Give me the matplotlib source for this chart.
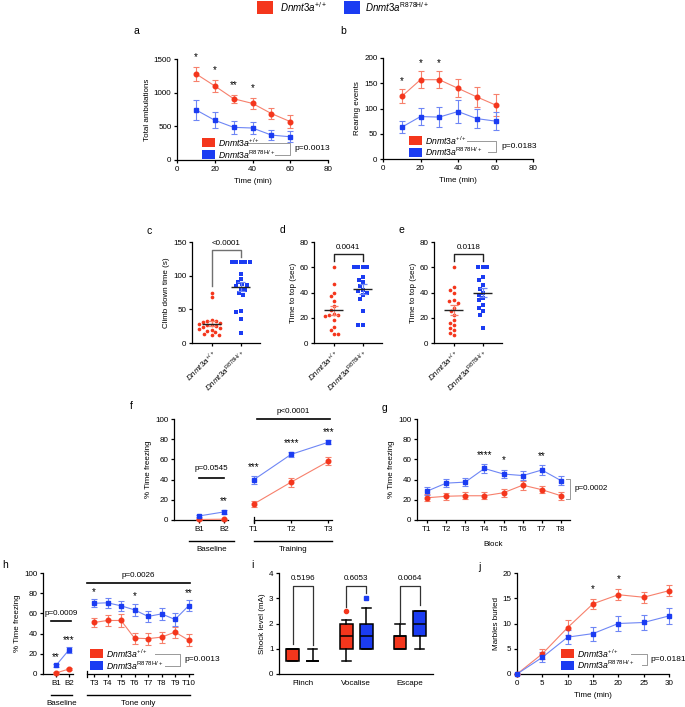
import numpy as np
import matplotlib
matplotlib.use('Agg')
import matplotlib.pyplot as plt
from matplotlib.patches import Rectangle
from matplotlib.lines import Line2D

plt.rcParams['font.family'] = ['Liberation Sans', 'DejaVu Sans']
plt.rcParams['mathtext.fontset'] = 'custom'
plt.rcParams['mathtext.rm'] = 'Liberation Sans'
plt.rcParams['mathtext.it'] = 'Liberation Sans:italic'
plt.rcParams['axes.linewidth'] = 0.9
plt.rcParams['xtick.major.width'] = 0.9
plt.rcParams['ytick.major.width'] = 0.9
plt.rcParams['xtick.major.size'] = 2.5
plt.rcParams['ytick.major.size'] = 2.5
plt.rcParams['xtick.major.pad'] = 1.5
plt.rcParams['ytick.major.pad'] = 1.5
plt.rcParams['font.size'] = 5.8

RED = '#F4361C'
RED_L = '#F7806C'
BLUE = '#1B3CF2'
BLUE_L = '#6E86F5'
WT = r'$\mathit{Dnmt3a}^{+/+}$'
MUT = r'$\mathit{Dnmt3a}^{\mathrm{R878H/+}}$'

# ---- data ----
# a: open field, total ambulations
a_time = [10, 20, 30, 40, 50, 60]
a_wt = [1280, 1100, 910, 840, 690, 570]
a_wt_sem = [100, 90, 60, 80, 80, 100]
a_mut = [745, 590, 485, 475, 370, 345]
a_mut_sem = [150, 120, 100, 95, 80, 85]
a_stars = ['*', '*', '**', '*', '', '']

# b: rearing events
b_time = [10, 20, 30, 40, 50, 60]
b_wt = [124, 157, 157, 140, 123, 107]
b_wt_sem = [14, 17, 17, 18, 20, 22]
b_mut = [63, 84, 83, 94, 80, 75]
b_mut_sem = [12, 17, 19, 23, 19, 18]
b_stars = ['*', '*', '*', '', '', '']

# c: climb down time (s)
c_wt = [75, 68, 34, 33, 32, 31, 29, 28, 27, 26, 25, 24, 22, 21, 20, 18, 16, 14, 12, 12]
c_mut = [120, 120, 120, 120, 120, 103, 95, 90, 88, 86, 84, 80, 78, 74, 72, 47, 46, 35, 15]
# d: pole test, time to top (sec)
d_wt = [60, 47, 40, 37, 33, 29, 26, 23, 22, 22, 21, 18, 13, 10, 7, 7]
d_mut = [60, 60, 60, 60, 52, 48, 50, 45, 42, 41, 40, 38, 35, 25, 14, 14]
# e: time to top (sec)
e_wt = [60, 44, 42, 40, 34, 33, 32, 28, 25, 22, 18, 16, 14, 12, 10, 8, 6]
e_mut = [60, 60, 60, 52, 50, 46, 43, 40, 38, 36, 34, 30, 28, 25, 22, 12]
cde_p = ['<0.0001', '0.0041', '0.0118']

# f: fear conditioning, baseline and training
f_base = ['B1', 'B2']
f_base_wt = [0.5, 0.8]
f_base_wt_sem = [0.5, 0.6]
f_base_mut = [4, 8]
f_base_mut_sem = [1, 2]
f_base_stars = ['', '**']
f_train = ['T1', 'T2', 'T3']
f_train_wt = [16, 37.5, 58]
f_train_wt_sem = [3, 4.5, 4]
f_train_mut = [40, 65, 77]
f_train_mut_sem = [4, 2.5, 2]
f_train_stars = ['***', '****', '***']

# g: freezing per block
g_blocks = ['T1', 'T2', 'T3', 'T4', 'T5', 'T6', 'T7', 'T8']
g_wt = [22, 23.5, 24, 24, 27, 34.5, 30, 24]
g_wt_sem = [3.5, 3.5, 3.5, 3.5, 4, 4.5, 3.5, 4]
g_mut = [28.5, 36.5, 37.5, 51, 45.5, 44, 49.5, 39]
g_mut_sem = [4, 4, 4, 4, 4, 4.5, 4.5, 4.5]
g_stars = ['', '', '', '****', '*', '', '**', '']

# h: cued recall
h_base = ['B1', 'B2']
h_base_wt = [1, 5]
h_base_wt_sem = [0.6, 1]
h_base_mut = [8.5, 24]
h_base_mut_sem = [1.5, 3]
h_base_stars = ['**', '***']
h_tone = ['T3', 'T4', 'T5', 'T6', 'T7', 'T8', 'T9', 'T10']
h_tone_wt = [51, 53, 53, 35.5, 35, 36.5, 41.5, 33.5]
h_tone_wt_sem = [4, 5.5, 6.5, 5.5, 6, 5.5, 5.5, 6]
h_tone_mut = [70, 70.5, 67.5, 63.5, 57, 59.5, 54, 67.5]
h_tone_mut_sem = [4, 5, 5, 6, 5.5, 6, 6.5, 5.5]
h_tone_stars = ['*', '', '', '*', '', '', '', '**']

# i: shock sensitivity (whislo, q1, med, q3, whishi)
i_tests = ['Flinch', 'Vocalise', 'Escape']
i_wt_box = [(0.5, 0.5, 1.0, 1.0, 1.0), (0.5, 1.0, 1.5, 2.0, 2.15), (1.0, 1.0, 1.5, 1.5, 2.0)]
i_mut_box = [(0.5, 0.5, 0.5, 0.5, 1.0), (1.0, 1.0, 1.5, 2.0, 2.6), (1.0, 1.5, 2.0, 2.5, 2.5)]
i_wt_out = [[], [2.5], []]
i_mut_out = [[], [3.0], []]
i_p = ['0.5196', '0.6053', '0.0064']

# j: marble burying
j_time = [0, 5, 10, 15, 20, 25, 30]
j_wt = [0, 4, 9.2, 13.9, 15.7, 15.2, 16.5]
j_wt_sem = [0, 1, 1.4, 1, 1.1, 1.1, 1.1]
j_mut = [0, 3.3, 7.3, 8.0, 10.0, 10.2, 11.5]
j_mut_sem = [0, 1, 1.4, 1.4, 1.5, 1.5, 1.5]
j_stars = ['', '', '', '*', '*', '', '']

# ---- figure ----
W, H = 685, 707
fig = plt.figure(figsize=(W / 100, H / 100), dpi=100)


def fx(x):
    return x / W


def fy(y):
    return 1 - y / H


def new_ax(l, t, r, b, left=True):
    ax = fig.add_axes([fx(l), fy(b), (r - l) / W, (b - t) / H])
    ax.spines['top'].set_visible(False)
    ax.spines['right'].set_visible(False)
    if not left:
        ax.spines['left'].set_visible(False)
        ax.set_yticks([])
    ax.tick_params(labelsize=5.8)
    return ax


def series(ax, x, wt, wt_sem, mut, mut_sem):
    ax.errorbar(x, wt, yerr=wt_sem, color=RED_L, lw=0.8, elinewidth=0.8, capsize=2, capthick=0.8,
                marker='o', ms=3.3, mfc=RED, mec=RED, clip_on=False, zorder=3)
    ax.errorbar(x, mut, yerr=mut_sem, color=BLUE_L, lw=0.8, elinewidth=0.8, capsize=2, capthick=0.8,
                marker='s', ms=3.3, mfc=BLUE, mec=BLUE, clip_on=False, zorder=3)


def stars(ax, x, tops, labels, pad=7):
    for xi, t, s in zip(x, tops, labels):
        if s:
            ax.annotate(s, xy=(xi, t), xytext=(0, pad), textcoords='offset points',
                        ha='center', va='center', fontsize=7, annotation_clip=False)


def upper(wt, wt_sem, mut, mut_sem):
    return [max(a + b, c + d) for a, b, c, d in zip(wt, wt_sem, mut, mut_sem)]


def group_key(x, y, dy, br_x, l1, l2, p, p_x):
    for k, (col, lab) in enumerate([(RED, WT), (BLUE, MUT)]):
        yy = y + k * dy
        fig.add_artist(Rectangle((fx(x), fy(yy + 9)), 13 / W, 9 / H, transform=fig.transFigure,
                                 fc=col, ec='none'))
        fig.text(fx(x + 16), fy(yy + 4.5), lab, fontsize=6.2, va='center', ha='left')
    y1, y2 = y + 4.5, y + dy + 4.5
    fig.add_artist(Line2D([fx(l1), fx(br_x), fx(br_x), fx(l2)], [fy(y1), fy(y1), fy(y2), fy(y2)],
                          transform=fig.transFigure, color='#999999', lw=0.7))
    fig.text(fx(p_x), fy((y1 + y2) / 2), p, fontsize=6, va='center', ha='left')


def panel_label(s, x, y):
    fig.text(fx(x), fy(y), s, fontsize=7.5, ha='center', va='center')


# top legend
fig.add_artist(Rectangle((fx(257), fy(14)), 16 / W, 13 / H, transform=fig.transFigure, fc=RED, ec='none'))
fig.text(fx(280), fy(7.5), WT, fontsize=7, va='center')
fig.add_artist(Rectangle((fx(344), fy(14)), 16 / W, 13 / H, transform=fig.transFigure, fc=BLUE, ec='none'))
fig.text(fx(365), fy(7.5), MUT, fontsize=7, va='center')

# a
ax = new_ax(177, 59, 328, 160)
series(ax, a_time, a_wt, a_wt_sem, a_mut, a_mut_sem)
stars(ax, a_time, upper(a_wt, a_wt_sem, a_mut, a_mut_sem), a_stars, pad=7)
ax.set_xlim(0, 80)
ax.set_ylim(0, 1500)
ax.set_xticks([0, 20, 40, 60, 80])
ax.set_yticks([0, 500, 1000, 1500])
ax.set_xlabel('Time (min)', fontsize=5.8, labelpad=4)
ax.set_ylabel('Total ambulations', fontsize=5.8, labelpad=2)
group_key(202, 138, 12, 290, 247, 275, 'p=0.0013', 294)
panel_label('a', 136, 31)

# b
ax = new_ax(383, 58, 533, 159)
series(ax, b_time, b_wt, b_wt_sem, b_mut, b_mut_sem)
stars(ax, b_time, upper(b_wt, b_wt_sem, b_mut, b_mut_sem), b_stars, pad=6)
ax.set_xlim(0, 80)
ax.set_ylim(0, 200)
ax.set_xticks([0, 20, 40, 60, 80])
ax.set_yticks([0, 50, 100, 150, 200])
ax.set_xlabel('Time (min)', fontsize=5.8, labelpad=4)
ax.set_ylabel('Rearing events', fontsize=5.8, labelpad=2)
group_key(409, 136, 11.5, 496, 467, 488, 'p=0.0183', 501)
panel_label('b', 343, 31)


# c, d, e dot plots
def swarm_x(vals, center, ppu_y, ppu_x=29.0, dmin=4.4):
    vals = np.asarray(vals, float)
    xs = np.zeros(len(vals))
    placed = []
    cands = sorted(np.arange(-14, 14.5, 0.5), key=abs)
    for i in np.argsort(vals)[::-1]:
        ypx = vals[i] * ppu_y
        for off in cands:
            if all((off - px) ** 2 + (ypx - py) ** 2 >= dmin ** 2 for px, py in placed):
                break
        placed.append((off, ypx))
        xs[i] = center + off / ppu_x
    return xs


def dotplot(ax, wt, mut, ymax, yticks, ylabel, p, br, br_color):
    ppu = 101.0 / ymax
    for k, (vals, col, lcol, mk) in enumerate([(wt, RED, RED_L, 'o'), (mut, BLUE, BLUE_L, 's')]):
        v = np.asarray(vals, float)
        ax.scatter(swarm_x(v, k, ppu), v, s=7, marker=mk, color=col, lw=0, clip_on=False, zorder=3)
        m = v.mean()
        sem = v.std(ddof=1) / np.sqrt(len(v))
        ax.errorbar(k, m, yerr=sem, color=lcol, lw=0.9, capsize=3, capthick=0.9, zorder=4)
        ax.hlines(m, k - 0.33, k + 0.33, color='#222222', lw=1.0, zorder=5)
    y0, y1, y2 = br
    ax.plot([0, 0, 1, 1], [y0, y2, y2, y1], color=br_color, lw=1.0, clip_on=False)
    ax.annotate(p, xy=(0.5, y2), xytext=(0, 2.5), textcoords='offset points', ha='center',
                va='bottom', fontsize=5.8, annotation_clip=False)
    ax.set_xlim(-0.68, 1.66)
    ax.set_ylim(0, ymax)
    ax.set_yticks(yticks)
    ax.set_xticks([0, 1])
    ax.set_xticklabels([WT, MUT], rotation=45, ha='right', rotation_mode='anchor', fontsize=5.8)
    ax.set_ylabel(ylabel, fontsize=5.8, labelpad=2)


ax = new_ax(192, 242, 260, 343)
dotplot(ax, c_wt, c_mut, 150, [0, 50, 100, 150], 'Climb down time (s)', cde_p[0], (84, 128, 138), '#707070')
panel_label('c', 149, 231)
ax = new_ax(314, 242, 382, 343)
dotplot(ax, d_wt, d_mut, 80, [0, 20, 40, 60, 80], 'Time to top (sec)', cde_p[1], (65, 65, 70.5), '#222222')
panel_label('d', 282, 230)
ax = new_ax(434, 242, 502, 343)
dotplot(ax, e_wt, e_mut, 80, [0, 20, 40, 60, 80], 'Time to top (sec)', cde_p[2], (65, 65, 70.5), '#222222')
panel_label('e', 401, 230)


def under_group(ax, x0, x1, label, xt=None):
    tr = ax.get_xaxis_transform()
    ax.plot([x0, x1], [-0.21, -0.21], color='k', lw=1.0, transform=tr, clip_on=False)
    ax.text((x0 + x1) / 2 if xt is None else xt, -0.29, label, transform=tr, ha='center', va='center',
            fontsize=5.8)


def start_cap(ax):
    ax.plot([0, 0], [-0.03, 0.03], color='k', lw=0.9, transform=ax.transAxes, clip_on=False)


# f
ax1 = new_ax(174, 419, 228, 520)
xb = np.arange(1, len(f_base) + 1)
series(ax1, xb, f_base_wt, f_base_wt_sem, f_base_mut, f_base_mut_sem)
stars(ax1, xb, upper(f_base_wt, f_base_wt_sem, f_base_mut, f_base_mut_sem), f_base_stars, pad=6)
ax1.set_xlim(0, 2.16)
ax1.set_ylim(0, 100)
ax1.set_yticks(range(0, 101, 20))
ax1.set_xticks(xb)
ax1.set_xticklabels(f_base)
ax1.set_ylabel('% Time freezing', fontsize=5.8, labelpad=2)
ax1.plot([1, 2], [42, 42], color='k', lw=1.2)
ax1.text(1.5, 51, 'p=0.0545', ha='center', va='center', fontsize=5.8)
under_group(ax1, 0.6, 2.4, 'Baseline', xt=1.5)
ax2 = new_ax(254, 419, 332, 520, left=False)
xt = np.arange(1, len(f_train) + 1)
series(ax2, xt, f_train_wt, f_train_wt_sem, f_train_mut, f_train_mut_sem)
stars(ax2, xt, upper(f_train_wt, f_train_wt_sem, f_train_mut, f_train_mut_sem), f_train_stars, pad=6)
ax2.set_xlim(1, 3.1)
ax2.set_ylim(0, 100)
ax2.set_xticks(xt)
ax2.set_xticklabels(f_train)
start_cap(ax2)
ax2.plot([1.07, 3.05], [100, 100], color='k', lw=1.2, clip_on=False)
ax2.text(2.06, 107, 'p<0.0001', ha='center', va='center', fontsize=5.8, clip_on=False)
under_group(ax2, 1, 3.1, 'Training')
panel_label('f', 131, 406)

# g
ax = new_ax(417, 419, 570, 520)
xg = np.arange(1, len(g_blocks) + 1)
series(ax, xg, g_wt, g_wt_sem, g_mut, g_mut_sem)
stars(ax, xg, upper(g_wt, g_wt_sem, g_mut, g_mut_sem), g_stars, pad=7)
ax.set_xlim(0.48, 8.47)
ax.set_ylim(0, 100)
ax.set_yticks(range(0, 101, 20))
ax.set_xticks(xg)
ax.set_xticklabels(g_blocks)
ax.set_xlabel('Block', fontsize=5.8, labelpad=6)
ax.set_ylabel('% Time freezing', fontsize=5.8, labelpad=2)
tr = ax.transAxes
ax.plot([0.975, 1.0, 1.0, 0.975], [0.405, 0.405, 0.207, 0.207], color='#999999', lw=0.7,
        transform=tr, clip_on=False)
ax.text(1.03, 0.31, 'p=0.0002', transform=tr, ha='left', va='center', fontsize=5.8)
panel_label('g', 385, 408)

# h
ax1 = new_ax(43, 573, 73, 674)
xb = np.arange(1, len(h_base) + 1)
series(ax1, xb, h_base_wt, h_base_wt_sem, h_base_mut, h_base_mut_sem)
stars(ax1, xb, upper(h_base_wt, h_base_wt_sem, h_base_mut, h_base_mut_sem), h_base_stars, pad=5)
ax1.set_xlim(0, 2.3)
ax1.set_ylim(0, 100)
ax1.set_yticks(range(0, 101, 20))
ax1.set_xticks(xb)
ax1.set_xticklabels(h_base)
ax1.set_ylabel('% Time freezing', fontsize=5.8, labelpad=2)
ax1.plot([0.6, 2.18], [52, 52], color='k', lw=1.2, clip_on=False)
ax1.text(1.43, 60, 'p=0.0009', ha='center', va='center', fontsize=5.8)
under_group(ax1, 0.6, 2.25, 'Baseline', xt=1.45)
ax2 = new_ax(87, 573, 193, 674, left=False)
xt = np.arange(3, 3 + len(h_tone))
series(ax2, xt, h_tone_wt, h_tone_wt_sem, h_tone_mut, h_tone_mut_sem)
stars(ax2, xt, upper(h_tone_wt, h_tone_wt_sem, h_tone_mut, h_tone_mut_sem), h_tone_stars, pad=5.5)
ax2.set_xlim(2.48, 10.33)
ax2.set_ylim(0, 100)
ax2.set_xticks(xt)
ax2.set_xticklabels(h_tone)
start_cap(ax2)
ax2.plot([2.48, 10.1], [90, 90], color='k', lw=1.2, clip_on=False)
ax2.text(6.3, 98, 'p=0.0026', ha='center', va='center', fontsize=5.8, clip_on=False)
under_group(ax2, 2.48, 10.1, 'Tone only', xt=6.3)
group_key(90, 649, 12, 180, 155, 165, 'p=0.0013', 184)
panel_label('h', 5, 565)

# i
ax = new_ax(279, 573, 433, 674)
pos = np.arange(len(i_tests))
off = 0.185
for boxes, outs, col, mk, sgn in [(i_wt_box, i_wt_out, RED, 'o', -1), (i_mut_box, i_mut_out, BLUE, 's', 1)]:
    stats = [dict(whislo=b[0], q1=b[1], med=b[2], q3=b[3], whishi=b[4], fliers=o) for b, o in zip(boxes, outs)]
    ax.bxp(stats, positions=pos + sgn * off, widths=0.24, patch_artist=True, capwidths=0.17,
           boxprops=dict(facecolor=col, edgecolor='k', lw=1.1),
           medianprops=dict(color='k', lw=1.1), whiskerprops=dict(color='k', lw=1.1),
           capprops=dict(color='k', lw=1.1),
           flierprops=dict(marker=mk, markerfacecolor=col, markeredgecolor=col, markersize=3))
br_tops = [(1.2, 1.15), (2.66, 3.2), (2.07, 2.72)]
for k, (p, (l, r)) in enumerate(zip(i_p, br_tops)):
    ax.plot([k - off, k - off, k + off, k + off], [l, 3.49, 3.49, r], color='#333333', lw=0.9)
    ax.text(k, 3.8, p, ha='center', va='center', fontsize=5.8)
ax.set_xlim(-0.44, 2.43)
ax.set_ylim(0, 4)
ax.set_yticks(range(0, 5))
ax.set_xticks(pos)
ax.set_xticklabels(i_tests)
ax.tick_params(axis='x', length=0, pad=4)
ax.set_ylabel('Shock level (mA)', fontsize=5.8, labelpad=2)
panel_label('i', 252, 565)

# j
ax = new_ax(517, 573, 669, 674)
series(ax, j_time, j_wt, j_wt_sem, j_mut, j_mut_sem)
stars(ax, j_time, upper(j_wt, j_wt_sem, j_mut, j_mut_sem), j_stars, pad=7)
ax.set_xlim(0, 30)
ax.set_ylim(0, 20)
ax.set_xticks(j_time)
ax.set_yticks([0, 5, 10, 15, 20])
ax.set_xlabel('Time (min)', fontsize=5.8, labelpad=4)
ax.set_ylabel('Marbles buried', fontsize=5.8, labelpad=2)
group_key(561, 649, 11.7, 647, 631, 642, 'p=0.0181', 650)
panel_label('j', 479, 567)

fig.savefig('out.png', dpi=100)
